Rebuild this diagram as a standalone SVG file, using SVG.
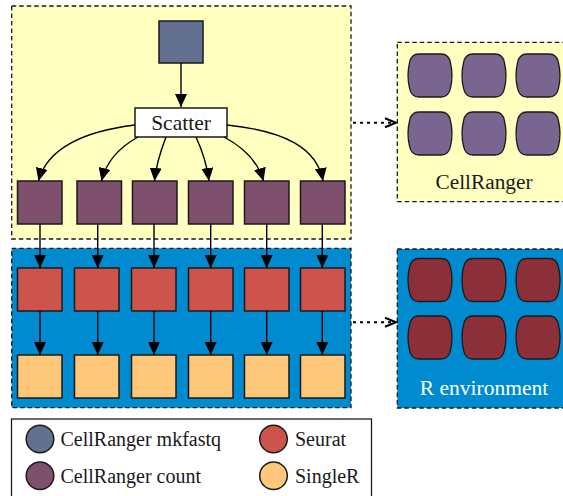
<svg xmlns="http://www.w3.org/2000/svg" width="563" height="496" viewBox="0 0 563 496" font-family="'Liberation Serif', 'DejaVu Serif', serif">
<defs>
<style>
text{font-family:'Liberation Serif','DejaVu Serif',serif;fill:#1a1a1a}
.grp{stroke:#1a1a1a;stroke-width:1.3;stroke-dasharray:4.5,3}
.sq{stroke:#1a1a1a;stroke-width:1.5}
.mk{fill:#63708f}.ct{fill:#7f4f6e}.se{fill:#cc544c}.sr{fill:#fec77a}
.cy1{fill:#7a6490;stroke:#1a1a1a;stroke-width:1.3}
.cy2{fill:#8b3038;stroke:#1a1a1a;stroke-width:1.3}
.ar{fill:none;stroke:#000;stroke-width:1.4;marker-end:url(#ah)}
.dt{fill:none;stroke:#000;stroke-width:2;stroke-dasharray:3,4;marker-end:url(#oh)}
</style>
<marker id="ah" markerUnits="userSpaceOnUse" markerWidth="14" markerHeight="12" refX="13" refY="6" orient="auto">
<path d="M0,0 L13,6 L0,12 Z" fill="#000"/>
</marker>
<marker id="oh" markerUnits="userSpaceOnUse" markerWidth="14" markerHeight="12" refX="12" refY="6" orient="auto">
<path d="M1,1.5 L12,6 L1,10.5" fill="none" stroke="#000" stroke-width="2"/>
</marker>
<path id="cyl" d="M11,0 H33 Q41,0 42.5,9 Q45.5,21.5 42.5,34 Q41,43 33,43 H11 Q3,43 1.5,34 Q-1.5,21.5 1.5,9 Q3,0 11,0 Z"/>
</defs>

<g id="cellranger-group">
<rect class="grp" x="11.7" y="6" width="339.3" height="233" fill="#ffffc0"/>
</g>
<g id="r-group">
<rect class="grp" x="11.7" y="248.3" width="339.3" height="159.4" fill="#008bd0"/>
</g>

<g id="cellranger-env">
<rect class="grp" x="397.3" y="42.3" width="170" height="159.4" fill="#ffffc0"/>
<use href="#cyl" class="cy1" x="408" y="54"/>
<use href="#cyl" class="cy1" x="462" y="54"/>
<use href="#cyl" class="cy1" x="516" y="54"/>
<use href="#cyl" class="cy1" x="408" y="112"/>
<use href="#cyl" class="cy1" x="462" y="112"/>
<use href="#cyl" class="cy1" x="516" y="112"/>
<text x="484" y="189" font-size="21.3" text-anchor="middle">CellRanger</text>
</g>

<g id="r-env">
<rect class="grp" x="397.3" y="249" width="170" height="159" fill="#008bd0"/>
<use href="#cyl" class="cy2" x="408" y="258.5"/>
<use href="#cyl" class="cy2" x="462" y="258.5"/>
<use href="#cyl" class="cy2" x="516" y="258.5"/>
<use href="#cyl" class="cy2" x="408" y="316"/>
<use href="#cyl" class="cy2" x="462" y="316"/>
<use href="#cyl" class="cy2" x="516" y="316"/>
<text x="484" y="395" font-size="21.5" text-anchor="middle" style="fill:#ffffff">R environment</text>
</g>

<g id="mkfastq"><rect class="sq mk" x="159" y="21" width="44" height="42"/></g>
<g id="scatter"><rect x="135" y="108" width="92" height="29" fill="#fff" stroke="#1a1a1a" stroke-width="1.5"/>
<text x="181" y="130" font-size="21.5" text-anchor="middle">Scatter</text></g>

<g id="count-1"><rect class="sq ct" x="17.5" y="181" width="44.5" height="43"/></g>
<g id="count-2"><rect class="sq ct" x="77" y="181" width="44.5" height="43"/></g>
<g id="count-3"><rect class="sq ct" x="132.5" y="181" width="44.5" height="43"/></g>
<g id="count-4"><rect class="sq ct" x="188.5" y="181" width="44.5" height="43"/></g>
<g id="count-5"><rect class="sq ct" x="244.5" y="181" width="44.5" height="43"/></g>
<g id="count-6"><rect class="sq ct" x="300.5" y="181" width="44.5" height="43"/></g>

<g id="seurat-1"><rect class="sq se" x="17.5" y="268" width="44.5" height="43"/></g>
<g id="seurat-2"><rect class="sq se" x="74.5" y="268" width="44.5" height="43"/></g>
<g id="seurat-3"><rect class="sq se" x="131.5" y="268" width="44.5" height="43"/></g>
<g id="seurat-4"><rect class="sq se" x="188.5" y="268" width="44.5" height="43"/></g>
<g id="seurat-5"><rect class="sq se" x="244.5" y="268" width="44.5" height="43"/></g>
<g id="seurat-6"><rect class="sq se" x="300.5" y="268" width="44.5" height="43"/></g>

<g id="singler-1"><rect class="sq sr" x="17.5" y="355" width="44.5" height="43"/></g>
<g id="singler-2"><rect class="sq sr" x="74.5" y="355" width="44.5" height="43"/></g>
<g id="singler-3"><rect class="sq sr" x="131.5" y="355" width="44.5" height="43"/></g>
<g id="singler-4"><rect class="sq sr" x="188.5" y="355" width="44.5" height="43"/></g>
<g id="singler-5"><rect class="sq sr" x="244.5" y="355" width="44.5" height="43"/></g>
<g id="singler-6"><rect class="sq sr" x="300.5" y="355" width="44.5" height="43"/></g>

<g id="connectors">
<path class="ar" d="M181,63 V107"/>
<path class="ar" d="M135,125 C85,131 47,148 38.5,181"/>
<path class="ar" d="M138,137 C120,147 106,162 101.5,181"/>
<path class="ar" d="M166,137 C161,150 156,165 154.5,181"/>
<path class="ar" d="M196,137 C202,150 207,165 209,181"/>
<path class="ar" d="M224,137 C243,147 258,162 263.5,181"/>
<path class="ar" d="M227,125 C285,131 317,148 323,181"/>
<path class="ar" d="M40,224 V268"/><path class="ar" d="M97.7,224 V268"/><path class="ar" d="M154,224 V268"/>
<path class="ar" d="M210.7,224 V268"/><path class="ar" d="M266.7,224 V268"/><path class="ar" d="M322.3,224 V268"/>
<path class="ar" d="M40,311 V355"/><path class="ar" d="M97.7,311 V355"/><path class="ar" d="M154,311 V355"/>
<path class="ar" d="M210.7,311 V355"/><path class="ar" d="M266.7,311 V355"/><path class="ar" d="M322.3,311 V355"/>
<path class="dt" d="M353,122.7 H396"/>
<path class="dt" d="M353,322.3 H396"/>
</g>

<g id="legend">
<rect x="11.5" y="419" width="360" height="90" fill="#fff" stroke="#1a1a1a" stroke-width="1.3"/>
<circle cx="40" cy="439" r="13.8" class="sq mk"/>
<text x="60.5" y="446" font-size="20">CellRanger mkfastq</text>
<circle cx="40" cy="475.7" r="13.8" class="sq ct"/>
<text x="60.5" y="482.5" font-size="20">CellRanger count</text>
<circle cx="273.5" cy="439" r="13.8" class="sq se"/>
<text x="295" y="446" font-size="20">Seurat</text>
<circle cx="273.5" cy="475.7" r="13.8" class="sq sr"/>
<text x="295" y="482.5" font-size="20">SingleR</text>
</g>
</svg>
